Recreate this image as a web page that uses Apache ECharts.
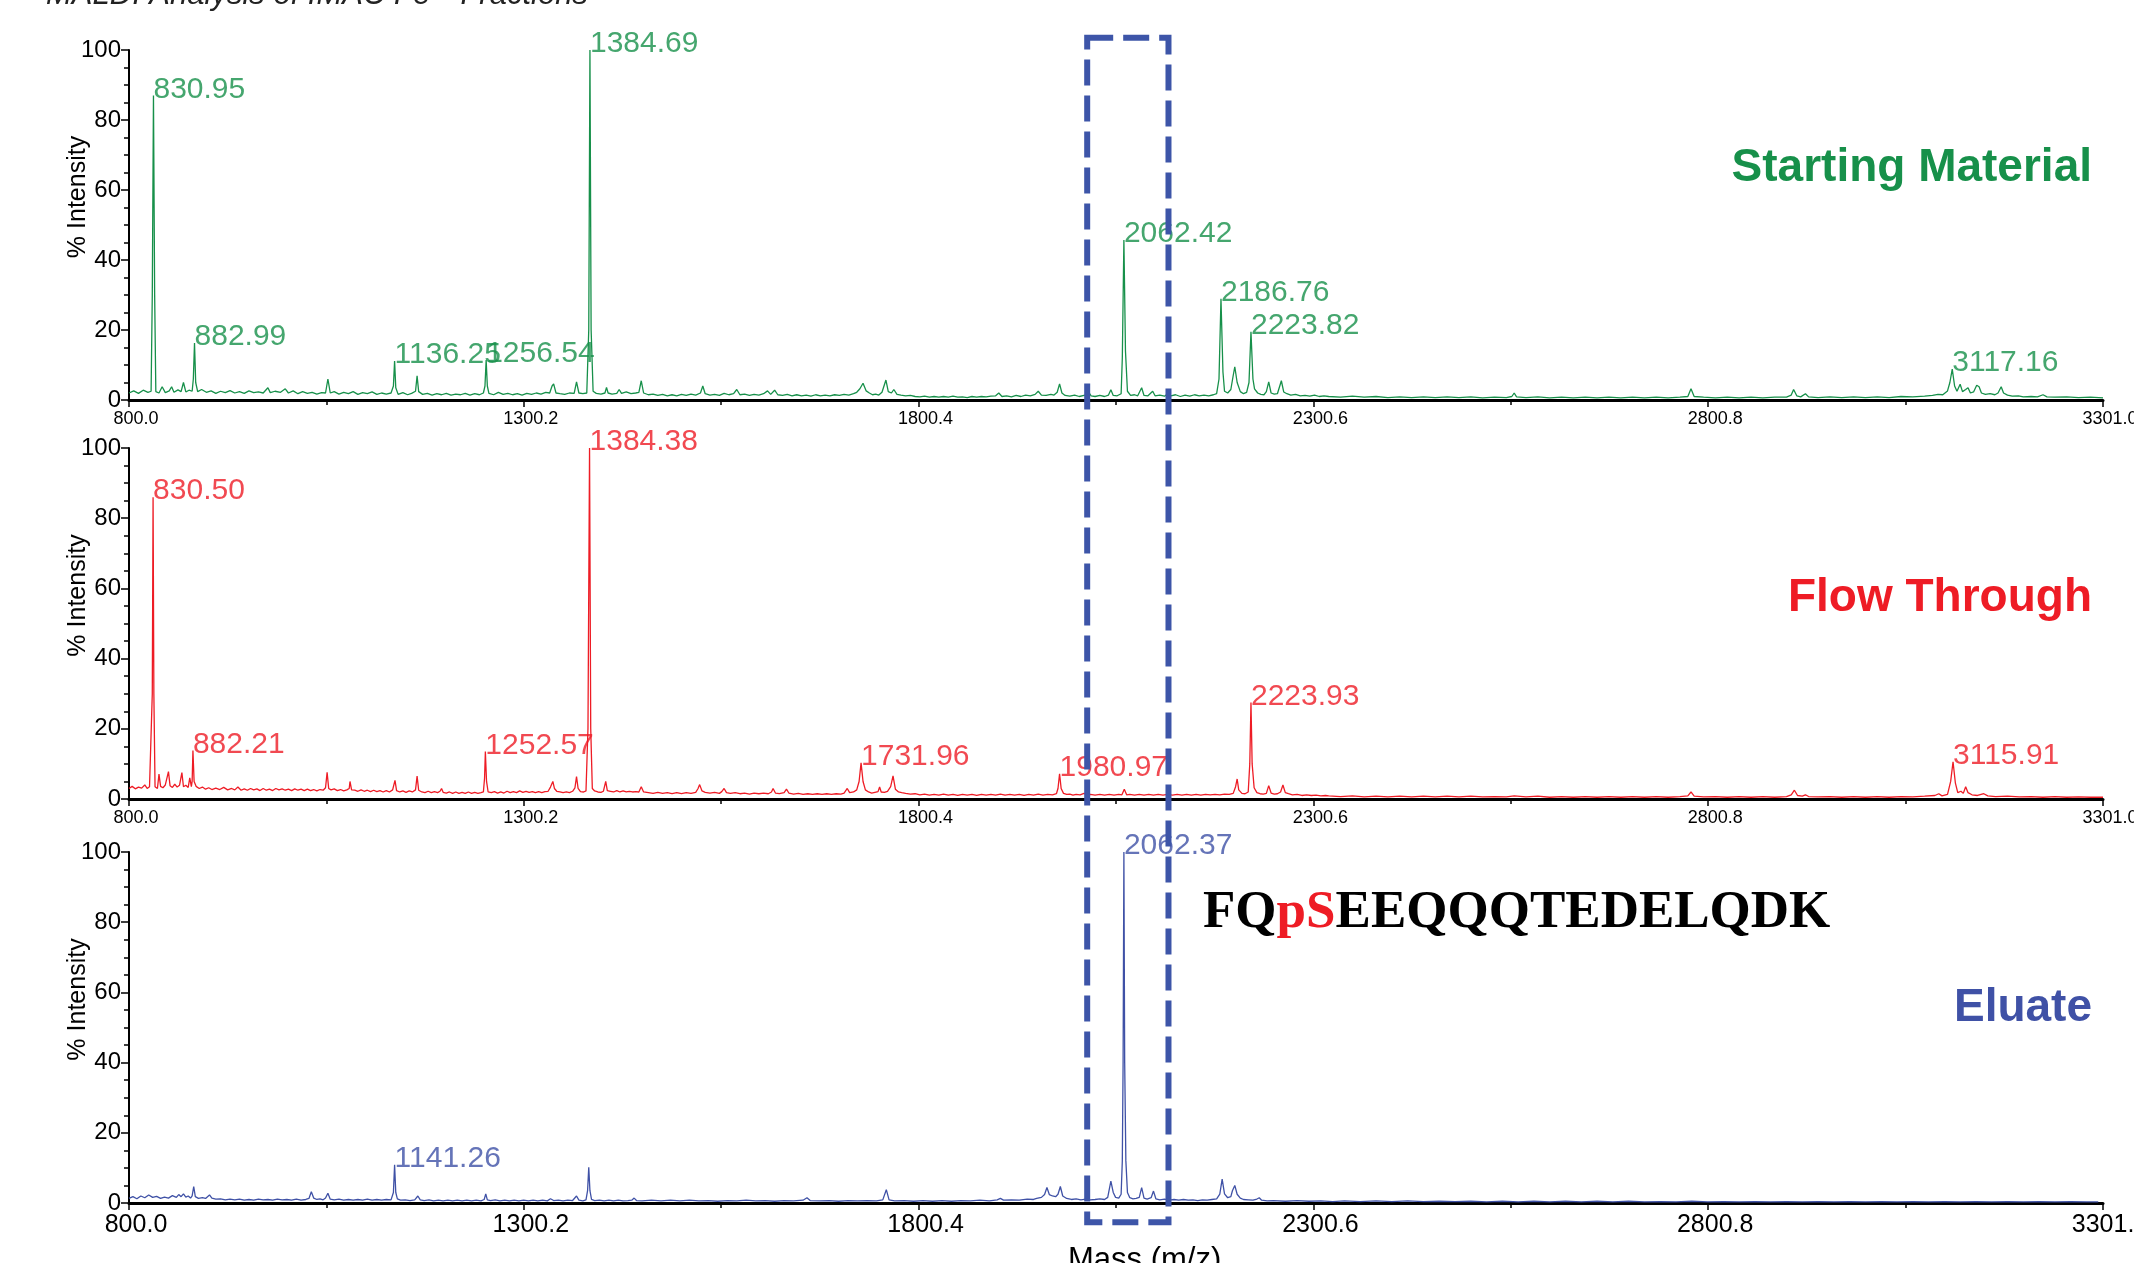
<!DOCTYPE html>
<html>
<head>
<meta charset="utf-8">
<script src="https://cdn.jsdelivr.net/npm/echarts@6.0.0/dist/echarts.min.js"></script>
<style>
  html, body { margin: 0; padding: 0; background: #fff; }
  #main { width: 2134px; height: 1263px; }
</style>
</head>
<body>
<div id="main"></div>
<script>
  // x axis (m/z) and y axis (% intensity) ticks
  var massMin = 800.0
  var massMax = 3301.0
  var massStep = 500.2
  var intensityTicks = [0, 20, 40, 60, 80, 100]

  var panelNames = ['Starting Material', 'Flow Through', 'Eluate']
  var panelColors = ['#17904a', '#ee1c25', '#3f51a6']

  // spectra, [m/z, % intensity]
  var startingMaterial = [
    [800,2.0],[806,2.6],[812,1.9],[818,2.8],[824,2.2],[828,2.5],[829.5,30],[831,87],[832.5,30],[834,2.4],[838,2.0],[842,3.8],[846,2.1],[851,2.6],[854,3.8],[857,2.2],[862,2.9],[866,2.4],[869,5.0],[872,2.3],[876,2.8],[880,2.5],[881.5,6],[883,16.3],[884.5,5],[887,2.4],
    [892,3.0],[898,2.2],[904,2.6],[910,1.9],[916,2.5],[922,2.1],[928,2.7],[934,2.0],[940,2.4],[946,1.9],[952,2.6],[958,2.1],[964,2.3],[970,2.0],[976,3.5],[979,2.1],[985,2.5],[992,2.2],[998,3.2],[1002,2.0],[1008,2.6],[1014,1.8],[1020,2.4],[1026,1.9],[1032,2.2],[1038,1.7],[1044,2.1],[1049,2.0],[1052,6.0],[1055,2.0],
    [1060,2.4],[1066,1.7],[1072,2.2],[1078,1.8],[1084,2.4],[1090,1.6],[1096,2.1],[1102,1.8],[1108,2.3],[1114,1.6],[1120,2.0],[1126,1.7],[1132,2.0],[1135,4],[1136.5,11.1],[1138,3.5],[1141,1.6],[1147,2.1],[1153,1.5],[1158,1.9],[1163,2.5],[1165,6.9],[1167,2.4],[1172,1.6],[1178,1.9],[1184,1.4],[1190,1.8],[1196,1.5],
    [1202,1.9],[1208,1.4],[1214,1.7],[1220,1.5],[1226,1.9],[1232,1.4],[1238,1.8],[1244,1.5],[1249,2.0],[1251,4],[1252.5,11.4],[1254,4],[1256,1.9],[1262,1.5],[1268,2.2],[1274,1.6],[1280,1.9],[1286,1.5],[1292,1.8],[1298,1.4],[1304,1.9],[1310,1.6],[1316,2.0],[1322,1.7],[1328,2.2],[1333,2.0],[1336,4.0],[1338,4.6],[1341,2.0],
    [1346,1.8],[1352,1.6],[1358,2.0],[1364,1.9],[1367,5.2],[1370,2.0],[1375,1.8],[1380,2.0],[1382.5,20],[1384,100],[1385.5,20],[1388,2.5],[1392,1.9],[1398,1.7],[1403,2.0],[1405,3.6],[1407,2.0],[1412,1.7],[1418,1.9],[1421,3.0],[1424,1.9],[1430,2.3],[1436,1.8],[1442,2.0],[1446,2.2],[1449,5.5],[1452,2.0],
    [1458,1.5],[1464,1.7],[1470,1.3],[1476,1.6],[1482,1.2],[1488,1.5],[1494,1.2],[1500,1.6],[1506,1.3],[1512,1.7],[1518,1.4],[1524,2.0],[1527,4.0],[1530,1.8],[1536,1.4],[1542,1.6],[1548,1.3],[1554,1.9],[1560,1.5],[1566,1.8],[1570,3.0],[1574,1.5],[1580,1.7],[1586,1.3],[1592,1.6],[1598,1.4],[1604,1.8],[1609,2.6],[1613,1.6],[1618,2.8],[1622,1.5],
    [1628,1.3],[1634,1.6],[1640,1.2],[1646,1.5],[1652,1.2],[1658,1.4],[1664,1.1],[1670,1.5],[1676,1.2],[1682,1.4],[1688,1.2],[1694,1.5],[1700,1.3],[1706,1.6],[1712,1.4],[1718,1.8],[1722,2.2],[1726,3.2],[1730,4.8],[1734,2.6],[1738,2.0],[1742,1.5],[1746,1.7],[1750,1.4],[1754,2.2],[1759,5.7],[1762,2.4],[1766,2.0],[1769,3.0],[1773,1.6],
    [1778,1.4],[1784,1.2],[1790,1.3],[1796,1.0],[1802,0.9],[1808,1.1],[1814,0.8],[1820,1.0],[1826,0.8],[1832,1.0],[1838,0.8],[1844,1.1],[1850,0.8],[1856,0.9],[1862,0.7],[1868,1.0],[1874,0.8],[1880,1.0],[1886,0.9],[1892,1.1],[1898,1.2],[1902,2.0],[1906,1.0],[1912,1.2],[1918,0.9],[1924,1.3],[1930,1.0],[1936,1.4],[1942,1.2],[1948,1.6],[1952,2.5],[1956,1.4],
    [1962,1.3],[1968,1.6],[1972,1.4],[1976,2.2],[1979,4.6],[1982,2.0],[1986,1.3],[1992,1.1],[1998,1.4],[2004,1.0],[2010,1.3],[2014,1.5],[2016,2.2],[2019,1.2],[2024,1.0],[2030,1.3],[2036,1.0],[2041,1.4],[2044,2.9],[2047,1.3],[2052,1.2],[2057,1.8],[2058.5,12],[2060.5,45.7],[2062.5,14],[2065,2.5],[2069,1.3],[2074,1.5],[2078,1.2],[2083,3.5],[2086,1.3],
    [2091,1.2],[2097,2.5],[2100,1.2],[2106,1.4],[2112,1.1],[2116,1.8],[2120,1.2],[2126,1.5],[2132,1.0],[2138,1.4],[2144,1.1],[2150,1.5],[2156,1.2],[2162,1.4],[2168,1.2],[2174,1.5],[2178,1.8],[2181,6],[2183.5,28.9],[2186,8],[2188,2.5],[2192,2.0],[2196,3.0],[2199,7],[2201,9.5],[2204,5.0],[2208,2.4],[2212,1.8],[2216,2.2],[2219,5],[2221.5,19.5],[2224,6],
    [2226,3.2],[2230,2.0],[2234,1.6],[2238,1.5],[2241,2.4],[2244,5.2],[2247,2.0],[2251,1.7],[2255,1.8],[2260,5.5],[2263,2.3],[2267,1.8],[2272,1.4],[2278,1.6],[2284,1.2],[2290,1.3],[2296,1.1],[2302,1.4],[2308,1.0],[2314,1.2],
    [2320,1.0],[2335,0.8],[2350,1.1],[2365,0.8],[2380,1.0],[2395,0.7],[2410,0.9],[2425,0.7],[2440,0.9],[2455,0.7],[2470,0.9],[2485,0.7],[2500,0.9],[2515,0.6],[2530,0.8],[2545,0.7],[2552,1.0],[2555,2.0],[2558,0.9],[2570,0.7],[2585,0.9],[2600,0.6],[2615,0.8],[2630,0.6],[2645,0.8],[2660,0.6],[2675,0.8],[2690,0.6],[2705,0.8],[2720,0.6],
    [2735,0.8],[2750,0.6],[2765,0.8],[2775,1.0],[2779,3.2],[2783,1.0],[2795,0.8],[2810,0.6],[2825,0.8],[2840,0.6],[2855,0.8],[2870,0.6],[2885,0.8],[2900,0.8],[2906,1.4],[2909,3.0],[2913,1.2],[2918,0.9],[2924,1.8],[2928,0.9],[2940,0.7],[2955,0.9],[2970,0.7],[2985,0.9],[3000,0.7],[3015,0.9],[3030,0.7],[3045,1.0],[3060,0.9],[3075,1.1],
    [3085,1.3],[3092,1.6],[3098,1.5],[3104,2.6],[3107,5.0],[3110,8.8],[3113,4.0],[3116,2.5],[3120,4.5],[3123,2.4],[3127,3.0],[3130,3.5],[3133,2.0],[3137,2.3],[3141,4.2],[3144,3.8],[3147,2.0],[3152,1.6],[3158,1.8],[3164,1.5],[3168,2.0],[3172,3.8],[3175,2.0],[3180,1.4],[3186,1.1],[3194,1.2],[3200,0.9],[3210,1.0],[3218,0.9],[3225,1.5],
    [3230,0.9],[3240,0.8],[3255,0.9],[3270,0.7],[3285,0.8],[3301,0.6]
  ]

  var flowThrough = [
    [800,3.0],[804,3.6],[808,2.9],[812,3.4],[816,3.1],[820,4.0],[823,3.0],[826,3.5],[828.5,3.2],[829.5,30],[830.5,86],[831.5,30],[833,3.5],[836,3.0],[838,7.1],[840,3.6],[843,3.2],[846,4.0],[850,7.8],[852,3.8],[855,3.3],[858,4.2],[861,3.4],[864,3.9],[867,7.5],[869,3.5],[872,3.9],[875,3.3],[877,6.0],[879,3.5],[880,5],[881,13.8],[882.5,5],
    [885,3.6],[889,3.0],[893,3.4],[897,2.8],[901,3.2],[905,2.7],[910,3.1],[915,2.7],[920,3.3],[925,2.6],[930,3.0],[934,2.6],[938,3.4],[942,2.5],[946,2.9],[950,2.5],[954,3.0],[958,2.6],[962,2.9],[966,2.4],[970,3.0],[974,2.5],[978,2.8],[982,2.4],[986,3.0],[990,2.6],[994,2.9],[998,2.5],[1002,2.8],[1006,2.4],[1010,2.9],[1014,2.5],
    [1018,2.8],[1022,2.4],[1026,2.8],[1030,2.4],[1034,2.7],[1038,2.3],[1042,2.7],[1046,2.5],[1049,3.2],[1051,7.6],[1053,3.0],[1056,2.6],[1060,2.9],[1064,2.4],[1068,2.7],[1072,2.3],[1076,2.6],[1079,3.0],[1080,5.0],[1082,2.6],[1086,2.5],[1090,2.2],[1094,2.6],[1098,2.2],[1102,2.5],[1106,2.1],[1110,2.5],[1114,2.1],[1118,2.4],
    [1122,2.0],[1126,2.4],[1130,2.0],[1134,2.6],[1137,5.3],[1139,2.4],[1143,2.0],[1147,2.3],[1151,1.9],[1155,2.3],[1159,2.0],[1163,2.6],[1165,6.5],[1167,2.5],[1171,2.0],[1175,1.8],[1179,2.2],[1183,1.8],[1187,2.1],[1191,1.8],[1194,2.2],[1196,3.0],[1198,1.9],[1202,1.7],[1206,2.0],[1210,1.6],[1214,2.0],[1218,1.6],[1222,1.9],
    [1226,1.6],[1230,2.0],[1234,1.6],[1238,1.9],[1242,1.6],[1246,1.8],[1249,2.0],[1250.5,6],[1251.5,13.5],[1253,5],[1255,2.0],[1259,1.8],[1263,2.1],[1267,1.7],[1271,2.0],[1275,1.7],[1279,2.2],[1283,1.8],[1287,2.1],[1291,1.8],[1295,2.3],[1299,1.9],[1303,2.2],[1307,1.9],[1311,2.1],[1315,1.8],[1319,2.1],[1323,1.8],[1327,2.1],
    [1331,2.2],[1334,3.4],[1337,5.0],[1339,3.0],[1342,2.2],[1346,2.0],[1350,1.8],[1354,2.0],[1358,1.8],[1362,2.2],[1365,3.2],[1367,6.4],[1369,3.0],[1372,2.1],[1376,2.0],[1379,2.3],[1381.5,20],[1383.5,100],[1385,20],[1387,3.0],[1390,2.3],[1394,2.0],[1398,1.9],[1401,2.2],[1404,5.0],[1406,2.4],[1410,2.2],[1414,2.0],[1418,2.4],
    [1422,2.0],[1426,2.3],[1430,2.0],[1434,2.2],[1438,2.0],[1442,2.1],[1446,2.0],[1449,3.5],[1452,2.0],[1458,1.8],[1464,1.6],[1470,1.9],[1476,1.6],[1482,1.8],[1488,1.5],[1494,1.8],[1500,1.5],[1506,1.8],[1512,1.6],[1518,1.9],[1521,3.0],[1523,4.1],[1526,2.3],[1530,1.9],[1536,1.7],[1542,1.9],[1548,1.6],[1551,2.1],[1554,3.0],
    [1557,1.8],[1562,1.6],[1568,1.8],[1574,1.5],[1580,1.7],[1586,1.4],[1592,1.7],[1598,1.5],[1604,1.7],[1610,1.5],[1614,2.0],[1616,3.0],[1619,1.7],[1624,1.5],[1630,1.8],[1633,2.8],[1636,1.7],[1642,1.4],[1648,1.6],[1654,1.3],[1660,1.5],[1666,1.3],[1672,1.5],[1678,1.3],[1684,1.5],[1690,1.3],[1696,1.5],[1702,1.4],
    [1706,1.7],[1710,3.0],[1713,1.8],[1718,2.0],[1722,2.6],[1725,5],[1727.5,10.3],[1730,5],[1733,2.6],[1737,2.0],[1741,1.7],[1745,1.9],[1749,2.1],[1751,3.4],[1753,2.0],[1757,1.9],[1761,2.2],[1765,3.5],[1768,6.6],[1771,2.8],[1775,2.0],[1779,1.8],[1784,1.6],[1790,1.4],[1796,1.5],[1802,1.2],[1808,1.4],[1814,1.1],
    [1820,1.3],[1826,1.1],[1832,1.4],[1838,1.1],[1844,1.3],[1850,1.0],[1856,1.3],[1862,1.1],[1868,1.3],[1874,1.0],[1880,1.3],[1886,1.1],[1892,1.3],[1898,1.1],[1904,1.4],[1910,1.1],[1916,1.3],[1922,1.1],[1928,1.3],[1934,1.0],[1940,1.3],[1946,1.1],[1952,1.4],[1958,1.1],[1964,1.3],[1970,1.2],[1975,1.5],[1977,3],[1979,7.2],[1981,3],
    [1984,1.6],[1988,1.3],[1992,1.4],[1996,1.1],[2000,1.3],[2005,1.2],[2010,1.6],[2014,1.2],[2018,1.3],[2024,1.1],[2030,1.3],[2036,1.1],[2042,1.3],[2048,1.1],[2054,1.3],[2058,1.2],[2061,2.8],[2064,1.2],[2068,1.3],[2074,1.1],[2080,1.3],[2086,1.1],[2092,1.3],[2098,1.1],[2104,1.3],[2110,1.1],[2116,1.3],[2122,1.1],[2128,1.3],
    [2134,1.1],[2140,1.3],[2146,1.1],[2152,1.3],[2158,1.1],[2164,1.3],[2170,1.2],[2176,1.3],[2182,1.2],[2188,1.4],[2194,1.3],[2199,1.6],[2202,3.5],[2204,5.7],[2206,2.6],[2210,1.6],[2214,1.5],[2218,2.0],[2220,10],[2221.5,27.5],[2223,10],[2225.5,3.2],[2229,1.8],[2233,1.5],[2237,1.4],[2241,1.6],[2244,3.8],[2247,1.7],
    [2251,1.4],[2255,1.5],[2259,2.0],[2262,4.0],[2265,1.8],[2269,1.5],[2274,1.2],[2280,1.3],[2286,1.0],[2292,1.2],[2298,1.0],[2304,1.1],[2310,0.9],[2316,1.0],
    [2320,0.9],[2335,0.7],[2350,0.9],[2365,0.6],[2380,0.8],[2395,0.6],[2410,0.8],[2425,0.6],[2440,0.8],[2455,0.6],[2470,0.8],[2485,0.6],[2500,0.8],[2515,0.6],[2530,0.7],[2545,0.6],[2555,0.9],[2570,0.6],[2585,0.8],[2600,0.5],[2615,0.7],[2630,0.5],[2645,0.7],[2660,0.5],[2675,0.7],[2690,0.5],[2705,0.7],[2720,0.5],
    [2735,0.7],[2750,0.5],[2765,0.7],[2775,0.9],[2779,2.0],[2783,0.8],[2795,0.6],[2810,0.7],[2825,0.5],[2840,0.7],[2855,0.5],[2870,0.7],[2885,0.5],[2900,0.7],[2906,1.2],[2910,2.5],[2914,1.0],[2920,0.8],[2924,1.2],[2928,0.7],[2940,0.6],[2955,0.7],[2970,0.5],[2985,0.7],[3000,0.5],[3015,0.7],[3030,0.5],[3045,0.7],
    [3060,0.6],[3075,0.8],[3088,1.0],[3093,1.5],[3097,0.9],[3104,1.3],[3108,5],[3111,10.6],[3114,4.5],[3117,1.8],[3121,2.2],[3124,1.6],[3127,3.5],[3130,1.8],[3135,1.2],[3142,1.0],[3150,1.5],[3155,0.9],[3165,0.7],[3180,0.8],[3195,0.6],[3210,0.7],[3225,0.5],[3240,0.7],[3255,0.5],[3270,0.6],[3285,0.5],[3301,0.5]
  ]

  var eluate = [
    [800,1.3],[805,1.8],[810,1.2],[815,2.0],[820,1.5],[825,2.3],[830,1.6],[835,1.9],[840,1.3],[845,1.7],[850,1.4],[855,2.1],[860,1.6],[863,2.4],[866,1.8],[869,2.6],[872,1.7],[875,2.0],[878,1.4],[880,2.0],[882,4.7],[884,1.8],[888,1.3],[893,1.5],[897,1.3],[902,2.3],[905,1.4],[910,1.1],[916,1.2],[922,0.9],[928,1.1],
    [934,0.9],[940,1.1],[946,0.8],[952,1.0],[958,0.8],[964,1.1],[970,0.9],[976,1.0],[982,0.8],[988,1.1],[994,0.9],[1000,1.0],[1006,0.8],[1012,1.1],[1018,0.8],[1024,1.0],[1028,1.3],[1031,3.2],[1034,1.4],[1038,1.0],[1042,1.2],[1046,0.9],[1049,1.4],[1052,2.8],[1055,1.1],[1060,0.9],[1066,1.1],[1072,0.8],[1078,1.0],
    [1084,0.8],[1090,1.0],[1096,0.8],[1102,1.1],[1108,0.8],[1114,1.0],[1120,0.8],[1126,1.0],[1132,0.9],[1135,3],[1136.5,10.9],[1138,3],[1140,1.2],[1144,0.8],[1150,0.9],[1156,0.7],[1162,0.9],[1166,2.0],[1169,0.9],[1174,0.7],[1180,0.9],[1186,0.6],[1192,0.8],[1198,0.6],[1204,0.8],[1210,0.6],[1216,0.8],[1222,0.6],
    [1228,0.8],[1234,0.6],[1240,0.8],[1246,0.6],[1250,1.0],[1252,2.6],[1254,0.9],[1258,0.7],[1264,0.9],[1270,0.6],[1276,0.8],[1282,0.6],[1288,0.8],[1294,0.6],[1300,0.8],[1306,0.6],[1312,0.8],[1318,0.6],[1324,0.8],[1330,0.6],[1334,1.2],[1338,0.7],[1344,0.8],[1350,0.6],[1356,0.8],[1362,0.7],[1367,2.0],[1370,0.8],
    [1375,0.6],[1379,0.9],[1381,3.5],[1382.5,10.2],[1384,3.5],[1386,1.0],[1390,0.7],[1396,0.8],[1402,0.6],[1408,0.8],[1414,0.6],[1420,0.8],[1426,0.6],[1432,0.7],[1437,0.8],[1440,1.4],[1443,0.7],[1450,0.6],[1462,0.8],[1474,0.6],[1486,0.8],[1498,0.6],[1510,0.8],[1522,0.6],[1534,0.7],[1546,0.5],[1558,0.7],
    [1570,0.6],[1582,0.8],[1594,0.6],[1606,0.7],[1618,0.5],[1630,0.7],[1642,0.6],[1654,0.8],[1659,1.5],[1663,0.7],[1675,0.6],[1687,0.7],[1699,0.5],[1711,0.7],[1723,0.6],[1735,0.7],[1747,0.6],[1755,0.9],[1759.5,3.8],[1763,0.9],[1770,0.6],[1782,0.7],[1794,0.5],[1806,0.7],[1818,0.5],[1830,0.7],[1842,0.5],[1854,0.7],
    [1866,0.6],[1878,0.8],[1890,0.6],[1900,0.9],[1904,1.3],[1908,0.8],[1918,0.9],[1928,0.8],[1938,1.1],[1946,1.0],[1950,1.3],[1956,1.6],[1960,2.4],[1963,4.4],[1966,2.4],[1970,2.0],[1974,1.8],[1977,2.5],[1980,4.7],[1983,2.0],[1988,1.3],[1994,1.0],[2000,1.2],[2006,0.9],[2012,1.1],[2018,0.9],[2024,1.0],[2030,1.2],
    [2036,1.0],[2040,1.6],[2044,6.2],[2047,3.0],[2050,1.6],[2054,1.4],[2057,2.5],[2058.5,12],[2059.5,40],[2060.5,100],[2061.5,40],[2063,12],[2065,3.0],[2068,1.5],[2072,1.2],[2076,1.3],[2080,1.6],[2083,4.4],[2086,1.4],[2090,1.1],[2095,1.5],[2098,3.4],[2101,1.2],[2106,0.9],[2112,1.1],[2118,0.8],[2124,1.0],
    [2130,0.8],[2136,1.0],[2142,0.8],[2148,0.9],[2154,0.7],[2160,0.9],[2166,0.8],[2172,1.0],[2178,1.2],[2182,2.5],[2185,6.8],[2188,2.6],[2192,1.5],[2196,1.8],[2198,3.5],[2201,5.0],[2204,2.5],[2208,1.4],[2212,1.0],[2218,0.9],[2224,0.8],[2228,1.0],[2232,1.5],[2235,0.8],[2242,0.6],
    [2250,0.7],[2265,0.5],[2280,0.7],[2295,0.5],[2310,0.6],[2325,0.4],[2340,0.6],[2360,0.4],[2380,0.6],[2400,0.4],[2420,0.6],[2440,0.4],[2460,0.5],[2480,0.4],[2500,0.5],[2520,0.3],[2540,0.5],[2560,0.3],[2580,0.5],[2600,0.3],[2620,0.5],[2640,0.3],[2660,0.5],[2680,0.3],[2700,0.5],[2720,0.3],[2740,0.4],
    [2760,0.3],[2780,0.5],[2800,0.3],[2820,0.4],[2840,0.3],[2860,0.4],[2880,0.3],[2900,0.4],[2920,0.3],[2940,0.4],[2960,0.3],[2980,0.4],[3000,0.3],[3020,0.4],[3040,0.3],[3060,0.4],[3080,0.3],[3100,0.4],[3120,0.3],[3140,0.4],[3160,0.3],[3180,0.4],[3200,0.3],[3220,0.4],[3240,0.3],[3260,0.4],[3280,0.3],[3295,0.3]
  ]

  // labelled peaks: [m/z, % intensity, label]
  var startingPeaks = [
    [831,87,'830.95'],[883,16.3,'882.99'],[1136.5,11.1,'1136.25'],[1252.5,11.4,'1256.54'],[1384,100,'1384.69'],
    [2060.5,45.7,'2062.42'],[2183.5,28.9,'2186.76'],[2221.5,19.5,'2223.82'],[3110,8.8,'3117.16']
  ]
  var flowPeaks = [
    [830.5,86,'830.50'],[881,13.8,'882.21'],[1251.5,13.5,'1252.57'],[1383.5,100,'1384.38'],
    [1727.5,10.3,'1731.96'],[1979,7.2,'1980.97'],[2221.5,27.5,'2223.93'],[3111,10.6,'3115.91']
  ]
  var eluatePeaks = [
    [1136.5,10.9,'1141.26'],[2060.5,100,'2062.37']
  ]

  // highlighted window (m/z) and its overhang above panel 1 / below panel 3 (in %)
  var boxMass = [2014, 2117]
  var boxTop = 103.5
  var boxBottom = -5.5

  var spectra = [startingMaterial, flowThrough, eluate]
  var peaks = [startingPeaks, flowPeaks, eluatePeaks]
  var gridTops = [50, 448, 852]
  var gridHeights = [350, 351, 351]
  var xLabelSizes = [18, 18, 25]

  var chart = echarts.init(document.getElementById('main'), null, {renderer: 'canvas'})

  var grids = [], xAxes = [], yAxes = [], series = []
  for (let i = 0; i < 3; i++) {
    grids.push({left: 129, right: 31, top: gridTops[i], height: gridHeights[i], outerBoundsMode: 'none', containLabel: false})
    xAxes.push({
      gridIndex: i,
      type: 'value',
      min: massMin,
      max: massMax,
      interval: massStep,
      axisLine: {lineStyle: {color: '#000', width: 3}},
      axisTick: {length: 7, lineStyle: {color: '#000', width: 1.5}},
      minorTick: {show: true, splitNumber: 2, length: 5, lineStyle: {color: '#000', width: 1.5}},
      splitLine: {show: false},
      axisLabel: {
        color: '#000',
        fontSize: xLabelSizes[i],
        fontFamily: 'Liberation Sans',
        margin: 10,
        padding: [0, 0, 0, 14],
        showMinLabel: true,
        showMaxLabel: true,
        formatter: function (v) { return v.toFixed(1) }
      }
    })
    yAxes.push({
      gridIndex: i,
      type: 'value',
      min: intensityTicks[0],
      max: intensityTicks[intensityTicks.length - 1],
      interval: intensityTicks[1] - intensityTicks[0],
      name: '% Intensity',
      nameLocation: 'middle',
      nameGap: 38,
      nameMoveOverlap: false,
      nameTextStyle: {color: '#000', fontSize: 25, fontFamily: 'Liberation Sans', padding: [0, 0, 0, 56]},
      axisLine: {show: true, lineStyle: {color: '#000', width: 2}},
      axisTick: {show: true, length: 8, lineStyle: {color: '#000', width: 1.5}},
      minorTick: {show: true, splitNumber: 4, length: 5, lineStyle: {color: '#000', width: 1.5}},
      splitLine: {show: false},
      axisLabel: {color: '#000', fontSize: 24, fontFamily: 'Liberation Sans', margin: 8}
    })
    series.push({
      name: panelNames[i],
      type: 'line',
      xAxisIndex: i,
      yAxisIndex: i,
      data: spectra[i],
      symbol: 'none',
      sampling: null,
      lineStyle: {color: panelColors[i], width: 1.3},
      z: 2
    })
    series.push({
      type: 'scatter',
      xAxisIndex: i,
      yAxisIndex: i,
      data: peaks[i],
      symbolSize: 0,
      silent: true,
      z: 3,
      label: {
        show: true,
        position: [0, 0],
        offset: [0, 9],
        align: 'left',
        verticalAlign: 'bottom',
        color: panelColors[i],
        fontSize: 30,
        fontFamily: 'Liberation Sans',
        lineHeight: 30,
        formatter: function (p) { return p.data[2] }
      }
    })
  }

  chart.setOption({
    animation: false,
    backgroundColor: '#fff',
    grid: grids,
    xAxis: xAxes,
    yAxis: yAxes,
    series: series
  })

  // dashed box placed from data values through the axes
  var p1 = chart.convertToPixel({gridIndex: 0}, [boxMass[0], boxTop])
  var p2 = chart.convertToPixel({gridIndex: 2}, [boxMass[1], boxBottom])

  var titleY = [172, 602, 1012]
  var graphics = []
  for (let i = 0; i < 3; i++) {
    graphics.push({
      type: 'text', right: 42, top: titleY[i] - 27,
      style: {text: panelNames[i], fill: panelColors[i], font: 'bold 46px "Liberation Sans"'}
    })
  }
  graphics.push({
    type: 'text', left: 1203, top: 887,
    style: {
      text: '{b|FQ}{r|pS}{b|EEQQQTEDELQDK}',
      rich: {
        b: {fill: '#000', fontFamily: 'Liberation Serif', fontWeight: 'bold', fontSize: 53},
        r: {fill: '#ee1c25', fontFamily: 'Liberation Serif', fontWeight: 'bold', fontSize: 53}
      }
    }
  })
  graphics.push({
    type: 'text', left: 46, top: -20,
    style: {
      text: '{a|MALDI Analysis of IMAC Fe}{s|3+}{a| Fractions}',
      rich: {
        a: {fill: '#222', fontFamily: 'Liberation Sans', fontStyle: 'italic', fontSize: 31},
        s: {fill: '#222', fontFamily: 'Liberation Sans', fontStyle: 'italic', fontSize: 19, verticalAlign: 'top'}
      }
    }
  })
  graphics.push({
    type: 'text', left: 1068, top: 1245,
    style: {text: 'Mass (m/z)', fill: '#000', font: '31px "Liberation Sans"'}
  })
  graphics.push({
    type: 'rect', z: 100,
    shape: {x: p1[0], y: p1[1], width: p2[0] - p1[0], height: p2[1] - p1[1]},
    style: {fill: null, stroke: '#3d55a8', lineWidth: 6, lineDash: [26, 10]}
  })

  chart.setOption({graphic: graphics})
</script>
</body>
</html>
